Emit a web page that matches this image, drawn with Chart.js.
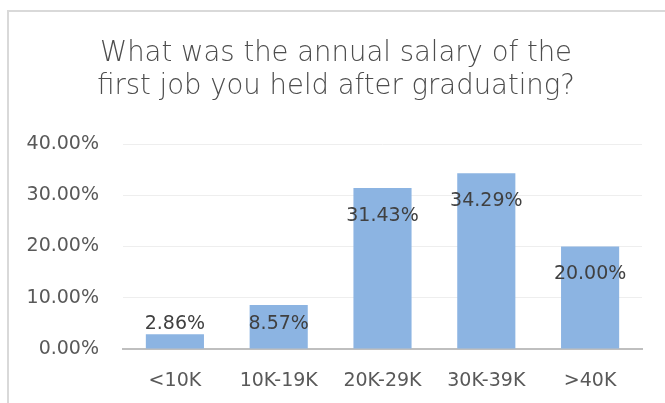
<!DOCTYPE html>
<html>
<head>
<meta charset="utf-8">
<script src="https://cdn.jsdelivr.net/npm/chart.js@4.4.1/dist/chart.umd.min.js"></script>
<style>
    html, body { margin: 0; padding: 0; background: #fff; overflow: hidden; }
    #wrap { position: relative; width: 665px; height: 403px; }
</style>
</head>
<body>
<div id="wrap"><canvas id="salaryChart"></canvas></div>
<script>
const titleLines = ["What was the annual salary of the", "first job you held after graduating?"];
const salaryBands = ["<10K", "10K-19K", "20K-29K", "30K-39K", ">40K"];
const salaryShares = [2.86, 8.57, 31.43, 34.29, 20.00];
const yTicks = [0, 10, 20, 30, 40];

const fontFamily = "'DejaVu Sans', 'Noto Sans', sans-serif";

// chart frame: only the left and top edges show in the crop
const frameLines = {
    id: 'frameLines',
    beforeDraw(chart) {
        const ctx = chart.ctx;
        ctx.save();
        ctx.fillStyle = '#d9d9d9';
        ctx.fillRect(7, 10, 2, chart.height - 10);
        ctx.fillRect(7, 10, chart.width - 7, 2);
        ctx.restore();
    }
};

// Excel style labels at the inside end of each bar
const barLabels = {
    id: 'barLabels',
    afterDatasetsDraw(chart) {
        const ctx = chart.ctx;
        const meta = chart.getDatasetMeta(0);
        ctx.save();
        ctx.font = "19px " + fontFamily;
        ctx.fillStyle = '#404040';
        ctx.textAlign = 'center';
        ctx.textBaseline = 'middle';
        meta.data.forEach(function (bar, i) {
            const y = Math.min(bar.y + 28, bar.base - 24);
            ctx.fillText(salaryShares[i].toFixed(2) + '%', bar.x, y);
        });
        ctx.restore();
    }
};

const salaryChartCtx = document.getElementById("salaryChart").getContext('2d');
const salaryChart = new Chart(salaryChartCtx, {
    type: 'bar',
    data: {
        labels: salaryBands,
        datasets: [
            {
                data: salaryShares,
                backgroundColor: '#8cb4e2',
                borderWidth: 0,
                categoryPercentage: 1,
                barPercentage: 0.56
            }
        ]
    },
    options: {
        responsive: true,
        maintainAspectRatio: false,
        animation: false,
        devicePixelRatio: 1,
        layout: {
            padding: { left: 7, right: 0, top: 10, bottom: 0 }
        },
        plugins: {
            legend: { display: false },
            tooltip: { enabled: false },
            title: {
                display: true,
                text: titleLines,
                color: '#4d4d4d',
                font: { family: fontFamily, size: 27.5, weight: 200, lineHeight: 1.22 },
                padding: { top: 27, bottom: 40 }
            }
        },
        scales: {
            x: {
                grid: { display: false },
                border: { color: '#bfbfbf', width: 2 },
                ticks: {
                    color: '#595959',
                    font: { family: fontFamily, size: 19 },
                    padding: 13,
                    maxRotation: 0
                },
                afterFit: function (scale) { scale.height = 54; }
            },
            y: {
                min: 0,
                max: 40,
                afterBuildTicks: function (scale) {
                    scale.ticks = yTicks.map(function (v) { return { value: v }; });
                },
                grid: { color: '#eeeeee', drawTicks: false },
                border: { display: false },
                ticks: {
                    color: '#595959',
                    font: { family: fontFamily, size: 19 },
                    padding: 24,
                    callback: function (v) { return v.toFixed(2) + '%'; }
                },
                afterFit: function (scale) { scale.width = 116; }
            },
            // empty strip on the right so the title centres like Excel's
            yRight: {
                position: 'right',
                grid: { display: false },
                border: { display: false },
                ticks: { display: false },
                afterFit: function (scale) { scale.width = 23; }
            }
        }
    },
    plugins: [frameLines, barLabels]
});
</script>
</body>
</html>
